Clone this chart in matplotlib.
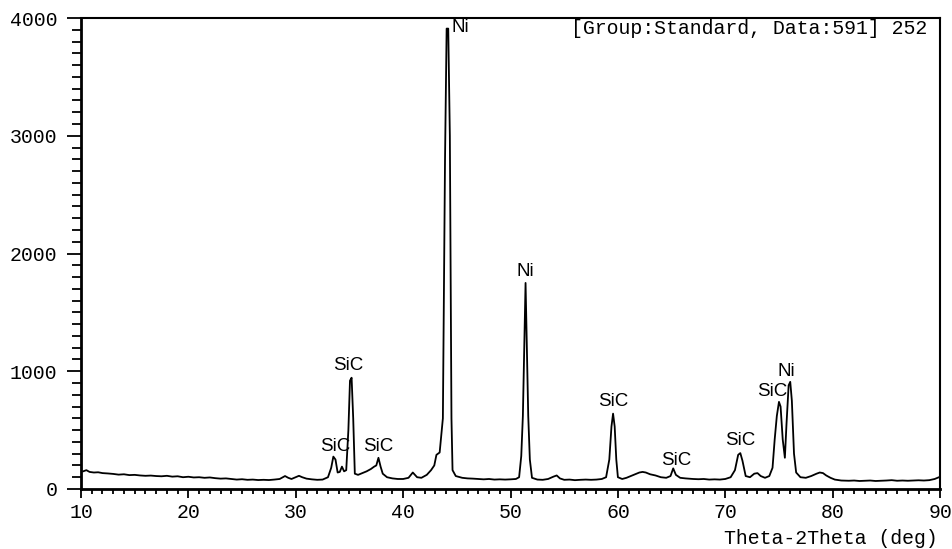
import matplotlib
matplotlib.use("Agg")
import matplotlib.pyplot as plt
from matplotlib.ticker import MultipleLocator

# XRD pattern (2theta in deg, intensity in counts)
two_theta = [
    10.2, 10.5, 10.8, 11.2, 11.6, 12.0, 12.5, 13.0, 13.5, 14.0, 14.5, 15.0,
    15.5, 16.0, 16.5, 17.0, 17.5, 18.0, 18.5, 19.0, 19.5, 20.0, 20.5, 21.0,
    21.5, 22.0, 22.5, 23.0, 23.5, 24.0, 24.5, 25.0, 25.5, 26.0, 26.5, 27.0,
    27.5, 28.0, 28.5, 29.0, 29.3, 29.6, 30.0, 30.3, 30.6, 31.0, 31.5, 32.0,
    32.5, 33.0, 33.3, 33.5, 33.7, 33.9, 34.1, 34.3, 34.5, 34.7, 34.9, 35.05,
    35.2, 35.35, 35.5, 35.8, 36.2, 36.6, 37.0, 37.3, 37.5, 37.7, 37.9, 38.1,
    38.5, 39.0, 39.5, 40.0, 40.5, 40.9, 41.3, 41.7, 42.2, 42.6, 42.9, 43.1,
    43.4, 43.7, 43.9, 44.05, 44.2, 44.35, 44.5, 44.6, 44.9, 45.5, 46.0, 46.5,
    47.0, 47.5, 48.0, 48.5, 49.0, 49.5, 50.0, 50.5, 50.8, 51.0, 51.15, 51.3,
    51.4, 51.5, 51.65, 51.8, 52.0, 52.5, 53.0, 53.5, 54.0, 54.3, 54.6, 55.0,
    55.5, 56.0, 56.5, 57.0, 57.5, 58.0, 58.5, 58.9, 59.2, 59.4, 59.55, 59.7,
    59.85, 60.0, 60.4, 60.8, 61.2, 61.6, 62.0, 62.3, 62.6, 63.0, 63.5, 64.0,
    64.5, 64.9, 65.15, 65.4, 65.8, 66.3, 67.0, 67.5, 68.0, 68.5, 69.0, 69.5,
    70.0, 70.5, 70.9, 71.2, 71.4, 71.6, 71.9, 72.3, 72.7, 73.0, 73.3, 73.7,
    74.1, 74.4, 74.6, 74.8, 75.0, 75.15, 75.35, 75.55, 75.7, 75.9, 76.05, 76.2,
    76.4, 76.6, 77.0, 77.5, 78.0, 78.5, 78.8, 79.1, 79.4, 79.8, 80.2, 80.8,
    81.5, 82.0, 82.5, 83.0, 83.5, 84.0, 84.5, 85.0, 85.5, 86.0, 86.5, 87.0,
    87.5, 88.0, 88.5, 89.0, 89.5, 89.9,
]
intensity = [
    150, 160, 145, 140, 142, 135, 132, 128, 122, 125, 118, 120,
    115, 112, 114, 110, 108, 112, 105, 108, 100, 104, 98, 100,
    95, 98, 92, 88, 90, 85, 80, 83, 78, 80, 76, 78,
    76, 80, 85, 110, 95, 85, 100, 112, 100, 88, 82, 78,
    80, 100, 180, 275, 250, 140, 145, 190, 150, 160, 500, 920,
    945, 600, 130, 120, 135, 150, 170, 190, 200, 265, 190, 130,
    100, 90, 85, 85, 95, 140, 100, 95, 120, 160, 200, 290,
    310, 600, 2800, 3910, 3910, 3000, 600, 160, 110, 95, 90, 88,
    85, 82, 85, 80, 82, 80, 82, 85, 100, 280, 620, 1300,
    1750, 1300, 620, 250, 95, 80, 78, 85, 105, 115, 90, 78,
    80, 75, 78, 80, 78, 80, 85, 100, 250, 530, 640, 530,
    250, 100, 85, 95, 110, 125, 140, 145, 140, 125, 115, 100,
    95, 110, 175, 120, 95, 90, 85, 83, 85, 80, 82, 80,
    85, 100, 160, 290, 305, 240, 110, 100, 130, 135, 110, 95,
    110, 180, 420, 620, 740, 700, 420, 265, 550, 880, 910, 750,
    300, 140, 100, 95, 110, 130, 140, 135, 115, 95, 80, 72,
    70, 72, 68, 70, 72, 68, 70, 72, 75, 70, 72, 70,
    72, 74, 72, 75, 85, 100,
]

# phase labels: text, x, y (centre of the label)
peak_labels = ["SiC", "SiC", "SiC", "Ni", "Ni", "SiC", "SiC", "SiC", "SiC", "Ni"]
label_x = [33.65, 34.9, 37.65, 44.5, 51.4, 59.6, 65.4, 71.36, 74.4, 75.7]
label_y = [365, 1045, 365, 3920, 1843, 739, 246, 408, 832, 1002]

mono = "Liberation Mono"
sans = "Liberation Sans"

fig = plt.figure(figsize=(9.53, 5.49), dpi=100)
ax = fig.add_axes([0.085, 0.1093, 0.9014, 0.8579])

ax.plot(two_theta, intensity, color="black", lw=1.3)

for txt, x, y in zip(peak_labels, label_x, label_y):
    ha = "left" if (txt == "Ni" and x == 44.5) else "center"
    ax.text(x, y, txt, ha=ha, va="center", fontsize=13.5, family=sans)

ax.text(0.985, 0.977, "[Group:Standard, Data:591] 252", transform=ax.transAxes,
        ha="right", va="center", fontsize=14.3, family=mono)

ax.set_xlim(10, 90)
ax.set_ylim(0, 4000)
ax.xaxis.set_major_locator(MultipleLocator(10))
ax.xaxis.set_minor_locator(MultipleLocator(1))
ax.yaxis.set_major_locator(MultipleLocator(1000))
ax.yaxis.set_minor_locator(MultipleLocator(100))

ax.tick_params(axis="y", which="major", length=10, width=1.3, pad=7, labelsize=14.3)
ax.tick_params(axis="y", which="minor", length=6.5, width=1.3)
ax.tick_params(axis="x", which="major", length=6.5, width=1.3, pad=3.5, labelsize=14.3)
ax.tick_params(axis="x", which="minor", length=3.6, width=1.3)
for lbl in ax.get_xticklabels() + ax.get_yticklabels():
    lbl.set_family(mono)

for side in ["left", "bottom"]:
    ax.spines[side].set_linewidth(2.0)
for side in ["top", "right"]:
    ax.spines[side].set_linewidth(1.5)

fig.text(938 / 953, 1 - 538 / 549, "Theta-2Theta (deg)", ha="right", va="center",
         fontsize=14.3, family=mono)

fig.savefig("out.png", dpi=100)
